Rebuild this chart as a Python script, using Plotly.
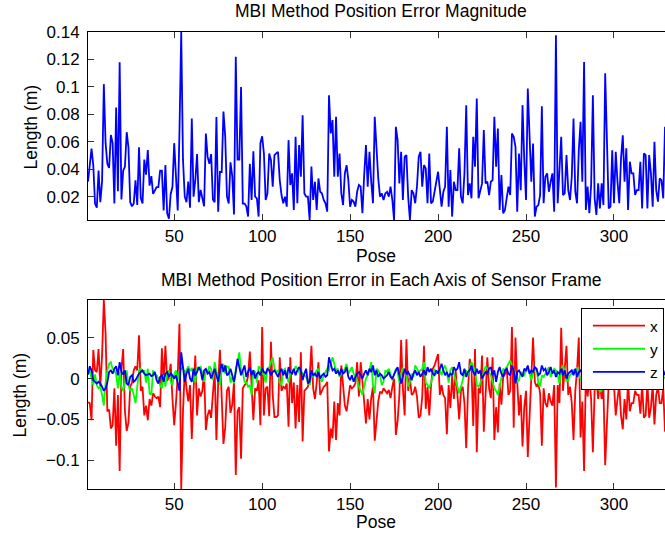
import plotly.graph_objects as go

# Pose index 1..329
pose = list(range(1, 330))

# Position error magnitude (m)
magnitude = [
    .031, .044, .055, .043, .015, .012, .039, .016, .031, .102,
    .059, .044, .041, .065, .059, .015, .085, .024, .118, .018,
    .039, .042, .067, .056, .016, .013, .015, .032, .014, .056,
    .019, .015, .047, .036, .054, .028, .035, .022, .025, .027,
    .027, .039, .039, .010, .043, .008, .004, .022, .027, .059,
    .035, .010, .068, .140, .047, .020, .016, .031, .012, .077,
    .020, .032, .051, .016, .025, .018, .013, .066, .049, .044,
    .051, .018, .016, .078, .009, .038, .038, .082, .064, .020,
    .015, .045, .035, .007, .122, .047, .047, .100, .015, .015,
    .013, .0055, .044, .0176, .053, .020, .0188, .0055, .059, .064,
    .0515, .0176, .0224, .0515, .0467, .0273, .0503, .0515, .0527, .0321,
    .0212, .0152, .020, .0127, .0612, .0285, .037, .0103, .0636, .0152,
    .0576, .0345, .0794, .0224, .020, .020, .003, .042, .0176, .0309,
    .0103, .0333, .0236, .0224, .0176, .0152, .0091, .0939, .0661, .0758,
    .0345, .0782, .0345, .0515, .0224, .0139, .037, .043, .0321, .0127,
    .0176, .0164, .0127, .0236, .0285, .0273, .0079, .0358, .0576, .0273,
    .0527, .0309, .0152, .0782, .0552, .0333, .0200, .0224, .0176, .0224,
    .0236, .0200, .0273, .0176, .0028, .0709, .0612, .0297, .0527, .0176,
    .0491, .0503, .0200, .0030, .0248, .0224, .0152, .0273, .0491, .0527,
    .0273, .0430, .0406, .0152, .0515, .0152, .0164, .0224, .0309, .0382,
    .0236, .0127, .0236, .0273, .0709, .0127, .0394, .0055, .0309, .0248,
    .0248, .0552, .0200, .0152, .0370, .0867, .0212, .0297, .0188, .0636,
    .0418, .0915, .0188, .0248, .0297, .0685, .0297, .0309, .0212, .0309,
    .0321, .0782, .0418, .0697, .0103, .0358, .0079, .0103, .0176, .0273,
    .0212, .0661, .0636, .0564, .0091, .0515, .0248, .0867, .0467, .0176,
    .0988, .0588, .0309, .0588, .0055, .0127, .0139, .0212, .0859, .0152,
    .0345, .0370, .0236, .0309, .0370, .0091, .1376, .0152, .0394, .0636,
    .0212, .0224, .0503, .0248, .0176, .0345, .0770, .0236, .0152, .0539,
    .0745, .0309, .1182, .0103, .0273, .0079, .0285, .0939, .0188, .0067,
    .0297, .0115, .0297, .0139, .1100, .0612, .0115, .0127, .0539, .0152,
    .0527, .0309, .0152, .0479, .0648, .0309, .0552, .0103, .0455, .0370,
    .0370, .0212, .0248, .0248, .0455, .0115, .0515, .0503, .0115, .0503,
    .0370, .0127, .0600, .0248, .0164, .0333, .0321, .0188, .0709,
]

# Error along the sensor x axis (m)
err_x = [
    -.029, -.030, -.051, .035, .010, .008, .036, -.010, .028, .096,
    .055, -.040, -.038, -.061, -.057, -.012, -.082, -.020, -.113, .012,
    .036, -.040, -.064, -.054, -.010, -.005, .010, .015, .010, .053,
    -.015, -.010, -.045, -.033, -.051, -.025, -.033, -.018, -.022, -.024,
    -.022, -.035, .037, -.004, .040, -.003, .002, .018, -.024, -.057,
    -.030, .004, .067, -.135, -.040, .010, -.012, -.028, -.008, -.074,
    -.015, .028, -.045, -.012, -.022, -.015, .008, -.063, -.045, -.038,
    -.048, -.012, .010, -.075, -.005, .035, -.035, -.080, -.060, -.015,
    -.010, -.042, -.032, -.004, -.118, -.040, -.035, -.098, -.012, -.008,
    -.006, .003, .033, -.005, -.051, -.012, -.015, -.002, -.057, .063,
    -.045, -.012, -.010, -.046, .045, -.020, -.047, -.047, -.045, .026,
    -.015, -.010, -.012, -.006, -.059, .026, -.030, -.005, -.061, -.008,
    -.053, .032, -.077, -.015, -.012, -.010, .001, .040, -.012, -.025,
    -.005, .020, -.020, -.015, -.010, -.008, -.004, -.089, -.061, -.073,
    -.028, -.075, -.030, -.045, .016, -.008, -.033, -.040, -.025, -.008,
    -.012, -.010, -.006, .020, -.022, .020, -.003, -.030, -.055, -.025,
    -.050, -.024, -.010, -.076, -.050, -.028, -.016, -.018, -.012, -.015,
    -.018, -.014, -.024, -.010, .000, -.069, -.052, -.020, .047, -.012,
    -.045, .048, -.015, .001, -.020, -.018, -.010, -.022, -.048, -.045,
    -.022, .040, -.037, -.010, -.045, -.008, .012, .016, .022, .030,
    -.020, -.008, -.020, -.024, -.068, -.008, -.036, .003, -.025, .010,
    -.020, -.050, -.015, -.010, -.030, -.085, -.014, .024, .012, -.058,
    .036, -.090, -.012, -.018, .028, -.065, -.020, .026, -.012, -.024,
    .026, -.075, -.035, -.066, -.006, -.032, .002, .005, .014, -.020,
    -.015, .063, -.060, .050, -.004, -.045, -.020, -.083, -.035, -.015,
    -.096, -.045, -.012, .050, -.004, -.010, -.006, -.018, -.082, -.012,
    -.030, -.035, -.018, -.028, -.033, -.008, -.133, -.008, -.030, .062,
    -.015, .010, .040, -.020, -.010, -.030, -.075, -.015, .010, .050,
    -.072, -.028, -.113, .005, -.022, .001, -.025, -.090, -.015, .003,
    -.025, -.008, -.025, -.012, -.106, -.055, -.005, -.008, .045, -.008,
    -.045, -.025, -.008, -.045, -.062, -.025, -.050, -.004, -.040, -.030,
    -.030, -.015, -.020, -.020, -.043, -.008, -.048, -.045, -.006, -.048,
    -.035, -.008, -.056, -.020, -.010, -.030, -.030, -.012, -.065,
]

# Error along the sensor y axis (m)
err_y = [
    .005, .010, .000, -.008, .005, -.008, -.012, -.010, -.020, -.033,
    -.005, .010, .018, .020, .012, .010, .005, -.012, .008, -.010,
    -.015, -.005, .010, -.008, -.015, -.012, -.020, -.030, -.010, .010,
    .012, .008, .010, -.005, .012, -.018, -.020, .010, .005, .004,
    .000, -.008, -.012, .004, -.010, .006, .010, -.004, -.008, .005,
    .010, -.002, .008, .012, .014, .006, .010, .015, .010, .012,
    .004, -.005, .014, .010, .015, .005, -.004, .010, .008, .015,
    .012, -.002, .020, .008, .005, -.008, .010, .018, .006, .015,
    .014, -.005, .002, -.006, .012, .020, .032, .010, .008, -.004,
    -.005, -.010, -.008, -.020, .010, .008, -.005, .015, .012, .006,
    .005, -.005, .010, .014, .020, .026, .012, .008, .010, -.005,
    -.008, .010, .012, .004, -.005, .006, .010, .008, .015, .012,
    .008, .010, .006, .004, .002, -.004, -.008, .004, .002, .006,
    .010, .012, .000, -.004, .004, .008, .012, .010, .020, .026,
    .018, .010, .012, .002, .006, .008, .012, .018, .006, .010,
    .014, .006, .002, -.002, -.010, -.015, -.020, -.010, .000, .004,
    .010, .020, -.008, -.018, .012, .010, .005, -.008, -.004, .010,
    .008, .012, .004, -.002, .005, .012, .008, -.005, .006, .012,
    .010, .004, -.010, -.004, .006, .002, .016, .012, .008, .010,
    .012, .020, -.005, -.008, -.012, -.005, .002, .012, .006, .008,
    .010, .004, .012, .016, .008, -.005, .010, .014, .006, -.002,
    -.012, -.018, -.010, -.002, .006, .010, .004, .014, .020, .015,
    .010, -.008, -.010, -.006, .002, .010, .015, .012, .008, .004,
    -.004, -.012, -.015, -.020, -.010, .000, .012, .010, .014, .018,
    .022, .016, .010, .005, -.004, -.002, .008, .006, .004, .010,
    .012, .006, -.002, .008, .010, .012, -.005, -.010, .004, .002,
    .006, .010, .014, .002, .008, .012, .010, .004, -.006, .012,
    .016, .010, -.004, -.002, .004, .006, .010, .008, .014, .004,
    .000, -.006, -.012, -.008, .008, .012, .014, .010, .006, -.004,
    -.010, -.016, -.014, -.006, .004, .002, .006, .008, .010, .004,
    .006, -.002, -.008, -.010, -.012, -.006, .002, .010, .004, .010,
    .014, .008, -.002, -.010, -.008, .004, .012, .008, .006, .002,
    -.006, -.004, .004, .010, .008, .006, -.004, .000, .002,
]

# Error along the sensor z axis (m)
err_z = [
    .005, .015, .010, -.002, -.004, -.006, -.004, -.006, -.010, -.015,
    -.012, -.005, .008, .010, .006, .012, .015, .004, .020, .008,
    .005, .010, -.006, -.008, .002, .004, -.004, -.002, .002, .006,
    .008, .010, .006, .004, .005, .006, .003, .004, .008, -.002,
    -.006, .002, .004, -.004, .006, .008, .002, .006, .004, .000,
    .004, -.006, -.015, .032, .010, -.004, .006, .012, .000, -.004,
    .012, .004, .008, .014, .010, -.002, .010, .012, .006, .008,
    .000, .006, .012, .004, -.004, .010, .018, .008, .016, .004,
    .006, .012, .002, -.004, .008, .024, .014, .004, .010, .016,
    .002, .008, .014, .004, .010, .000, .006, .008, .004, .012,
    .008, .006, .012, .010, .004, .008, .010, .006, .002, .008,
    .012, .004, .010, .000, .014, .008, .006, .012, .004, .010,
    .014, .010, -.002, .006, .012, -.006, -.004, .010, .004, .006,
    .002, .008, .000, .004, .006, .002, .004, .026, .018, .010,
    .012, .006, .010, .004, .012, .006, .008, .014, .002, -.002,
    .004, -.004, .002, .006, .008, .004, .000, .006, .010, .004,
    .012, .008, .016, .004, .010, .002, .006, .004, .000, .002,
    .004, .008, .002, .000, .006, .010, .014, .004, -.006, .002,
    .012, .006, .008, .004, -.002, .006, .010, .004, .008, .002,
    .006, .010, .004, .014, .008, .012, .006, .004, .010, .006,
    .012, .018, .010, .004, .008, .002, .006, .004, .014, .010,
    .012, .020, .006, .004, .012, .002, .008, .010, .016, .008,
    .004, .012, .006, .010, .000, .004, .008, .006, .012, .014,
    .004, .010, -.004, .008, .014, .006, .002, .010, .012, .006,
    .004, .016, .010, -.006, .008, .010, .006, .002, .012, .010,
    .016, .006, .010, .008, .014, .012, .004, .006, .016, .010,
    .012, .004, .008, .014, .006, .010, .002, .008, .006, .012,
    .004, .010, .000, .006, .008, .010, .004, .012, .002, .008,
    .010, .006, .004, .008, .012, .004, .010, .006, .002, .000,
    .006, .010, .004, .008, .012, .002, .006, .010, .004, .012,
    .006, -.002, .008, .004, .012, .006, -.002, .008, .010, .002,
    .006, .012, .004, .008, -.004, .010, .002, .006, .012, .004,
    .008, .004, .010, .006, -.004, .002, .008, .010, .004,
]

x_ticks = [50, 100, 150, 200, 250, 300]
top_ticks = [0.02, 0.04, 0.06, 0.08, 0.1, 0.12, 0.14]
bottom_ticks = [-0.1, -0.05, 0, 0.05]

FONT = "Liberation Sans, Arial, Helvetica, sans-serif"
W, H = 665, 538
L, R, T, B = 88, 0, 32, 49
PW, PH = W - L - R, H - T - B


def px_x(px):
    return (px - L) / PW


def px_y(py):
    return (H - B - py) / PH


fig = go.Figure()
fig.add_trace(go.Scatter(x=pose, y=magnitude, mode="lines", showlegend=False,
                         line=dict(color="#0000ff", width=1.8),
                         xaxis="x", yaxis="y"))
for name, vals, col in [("x", err_x, "#ff0000"), ("y", err_y, "#00ff00"),
                        ("z", err_z, "#0000ff")]:
    fig.add_trace(go.Scatter(x=pose, y=vals, mode="lines", name=name,
                             line=dict(color=col, width=1.8),
                             xaxis="x2", yaxis="y2"))

axis_common = dict(showgrid=False, zeroline=False, showline=True,
                   linecolor="black", linewidth=1, ticks="inside",
                   ticklen=6, tickcolor="#333333",
                   tickfont=dict(family=FONT, size=17, color="black"))

x_range = [pose[0], pose[-1]]
all_err = err_x + err_y + err_z

fig.update_layout(
    width=W, height=H,
    margin=dict(l=L, r=R, t=T, b=B, pad=0),
    paper_bgcolor="white", plot_bgcolor="white",
    xaxis=dict(domain=[0, 1], range=x_range, anchor="y", tickvals=x_ticks,
               mirror="ticks", **axis_common),
    yaxis=dict(domain=[px_y(220.3), 1], range=[min(magnitude), max(magnitude)],
               anchor="x", tickvals=top_ticks, ticklabelstandoff=4,
               **axis_common),
    xaxis2=dict(domain=[0, 1], range=x_range, anchor="y2", tickvals=x_ticks,
                mirror="ticks", **axis_common),
    yaxis2=dict(domain=[0, px_y(300)], range=[min(all_err), max(all_err)],
                anchor="x2", tickvals=bottom_ticks, ticklabelstandoff=4,
                **axis_common),
    legend=dict(x=px_x(664), xanchor="right", y=px_y(308), yanchor="top",
                bgcolor="white", bordercolor="black", borderwidth=1,
                font=dict(family=FONT, size=15.5, color="black"),
                itemwidth=52, entrywidth=58, tracegroupgap=0,
                indentation=6),
    showlegend=True,
)

texts = [
    ("MBI Method Position Error Magnitude", 381, 11, 0, 17.5),
    ("MBI Method Position Error in Each Axis of Sensor Frame", 381, 280, 0, 17.5),
    ("Pose", 376, 256, 0, 17.5),
    ("Pose", 376, 522, 0, 17.5),
    ("Length (m)", 30.5, 127, -90, 17.5),
    ("Length (m)", 19.5, 395, -90, 17.5),
]
for txt, x, y, ang, size in texts:
    fig.add_annotation(text=txt, x=px_x(x), y=px_y(y), xref="paper",
                       yref="paper", xanchor="center", yanchor="middle",
                       showarrow=False, textangle=ang,
                       font=dict(family=FONT, size=size, color="black"))

fig.write_html("out.html")
